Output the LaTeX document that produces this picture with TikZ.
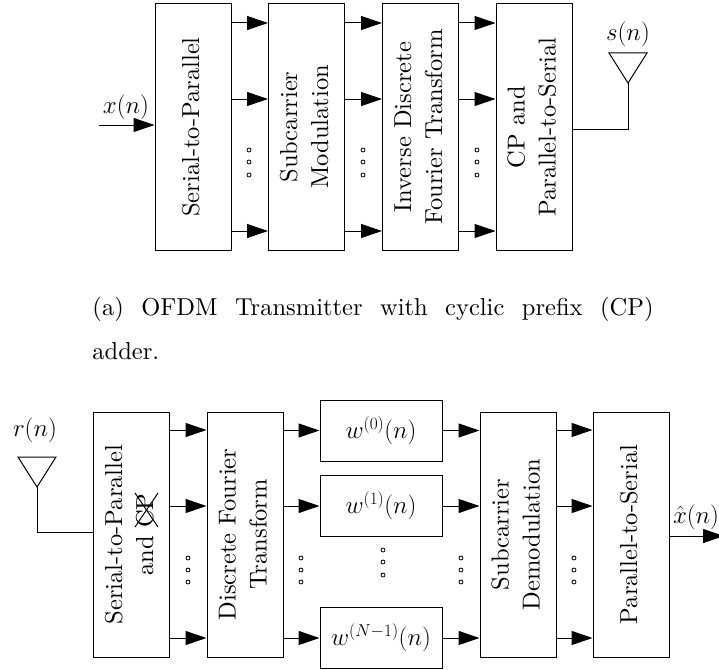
\documentclass[tikz,border=0pt]{standalone}
\usepackage{amsmath}
\usepackage{amssymb}
\usepackage{xcolor}
\usetikzlibrary{arrows.meta}
\newcommand{\vtext}[1]{\rotatebox{90}{\scalebox{2.45}{\fontsize{10}{12.6}\selectfont\begin{tabular}{@{}c@{}}#1\end{tabular}}}}
\tikzset{
  blockbox/.style={draw,line width=1pt,fill=white,inner sep=0pt},
  mathlabel/.style={inner sep=0pt,font=\fontsize{23}{28}\selectfont},
  wbox/.style={blockbox,minimum width=122pt,minimum height=61pt,font=\fontsize{25}{30}\selectfont},
  sig/.style={line width=1pt,->},
  feed/.style={line width=1pt},
  antenna/.style={draw,line width=1pt},
  dotmark/.style={draw,line width=0.8pt,circle,inner sep=0pt,minimum size=4pt}
}
\begin{document}
\begin{tikzpicture}[x=1pt,y=-1pt,>={Triangle[length=21pt,width=14pt]}]
\useasboundingbox (0,0) rectangle (719,669);
% transmitter
\node[blockbox,minimum width=76pt,minimum height=246pt] (txserial) at (193,127) {\vtext{Serial-to-Parallel}};
\node[blockbox,minimum width=76pt,minimum height=246pt] (txmod) at (306.5,127) {\vtext{Subcarrier\\Modulation}};
\node[blockbox,minimum width=76pt,minimum height=246pt] (txidft) at (420.5,127) {\vtext{Inverse Discrete\\Fourier Transform}};
\node[blockbox,minimum width=76pt,minimum height=246pt] (txcp) at (534,127) {\vtext{CP and\\Parallel-to-Serial}};
\foreach \a/\b in {txserial/txmod,txmod/txidft,txidft/txcp}
  \foreach \y in {23,99,231}
    \draw[sig] (\a.east |- 0,\y) -- (\b.west |- 0,\y);
\foreach \x in {249,363,477}
  \foreach \y in {150,162,175}
    \node[dotmark] (txdot\x\y) at (\x,\y) {};
\coordinate (xin) at (99,125);
\draw[sig] (xin) -- (txserial.west |- xin);
\node[mathlabel] (xlabel) at (126,107) {$x(n)$};
\coordinate (stip) at (628,83);
\draw[antenna] (609,53) -- (647,53) -- (stip) -- cycle;
\draw[feed] (txcp.east |- 0,129) -| (stip);
\node[mathlabel] (slabel) at (628,34) {$s(n)$};
% caption
\node[anchor=north west,inner sep=0pt,scale=2.45,text width=229pt,align=justify,font=\fontsize{10}{18}\selectfont] (caption) at (92,297)
  {(a) OFDM Transmitter with cyclic prefix (CP)\linebreak adder.};
% receiver
\node[blockbox,minimum width=76pt,minimum height=245pt] (rxserial) at (131.5,534.5) {\vtext{Serial-to-Parallel\\and CP}};
\node[blockbox,minimum width=76pt,minimum height=245pt] (rxdft) at (245,534.5) {\vtext{Discrete Fourier\\Transform}};
\node[wbox] (wzero) at (381,430.5) {$w^{(0)}(n)$};
\node[wbox] (wone) at (381,506) {$w^{(1)}(n)$};
\node[wbox] (wlast) at (381,638) {$w^{(N-1)}(n)$};
\node[blockbox,minimum width=76pt,minimum height=245pt] (rxdemod) at (518,534.5) {\vtext{Subcarrier\\Demodulation}};
\node[blockbox,minimum width=76pt,minimum height=245pt] (rxpar) at (631,534.5) {\vtext{Parallel-to-Serial}};
\foreach \y in {430,506,638} {
  \draw[sig] (rxserial.east |- 0,\y) -- (rxdft.west |- 0,\y);
  \draw[sig] (rxdemod.east |- 0,\y) -- (rxpar.west |- 0,\y);
}
\draw[sig] (rxdft.east |- wzero) -- (wzero);
\draw[sig] (rxdft.east |- wone) -- (wone);
\draw[sig] (rxdft.east |- wlast) -- (wlast);
\draw[sig] (wzero) -- (rxdemod.west |- wzero);
\draw[sig] (wone) -- (rxdemod.west |- wone);
\draw[sig] (wlast) -- (rxdemod.west |- wlast);
\foreach \x in {188,301,461,574}
  \foreach \y in {558,570,582}
    \node[dotmark] (rxdot\x\y) at (\x,\y) {};
\foreach \y in {550,562,575}
  \node[dotmark] (wdot\y) at (383,\y) {};
\coordinate (rtip) at (37,487);
\draw[antenna] (18,457) -- (56,457) -- (rtip) -- cycle;
\draw[feed] (rtip) |- (rxserial.west |- 0,532);
\node[mathlabel] (rlabel) at (35,430) {$r(n)$};
%cross over the CP
\coordinate (crossa) at (135,493);
\coordinate (crossb) at (158,527);
\draw[feed] (crossa) -- (crossb);
\draw[feed] (crossa |- crossb) -- (crossb |- crossa);
\coordinate (xout) at (724,536);
\draw[sig] (rxpar.east |- xout) -- (xout);
\node[mathlabel] (xhatlabel) at (696,517) {$\hat{x}(n)$};
\end{tikzpicture}
\end{document}
